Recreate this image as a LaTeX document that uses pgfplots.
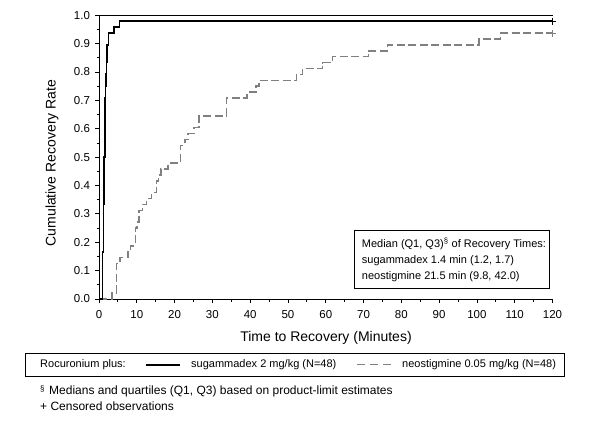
\documentclass[border=0pt]{standalone}
\usepackage{pgfplots}
\pgfplotsset{compat=1.18}
\usepackage{fontspec}
\setmainfont{Liberation Sans}
\definecolor{neogray}{RGB}{128,128,128}
\begin{document}
\begin{tikzpicture}[x=1bp,y=1bp]
\useasboundingbox (0,0) rectangle (596,-433);
\begin{axis}[
  at={(99bp,-299bp)}, anchor=south west,
  width=453.5bp, height=283.7bp, scale only axis,
  xmin=0, xmax=120, ymin=0, ymax=1,
  axis x line*=bottom, axis y line*=left,
  axis line style={line width=0.8bp, -},
  xtick={0,10,20,30,40,50,60,70,80,90,100,110,120},
  ytick={0,0.1,0.2,0.3,0.4,0.5,0.6,0.7,0.8,0.9,1.0},
  minor x tick num=1, minor y tick num=1,
  tick align=outside,
  major tick length=4bp, minor tick length=2.5bp,
  every tick/.style={black, line width=0.8bp},
  yticklabel style={xshift=-1.5bp, /pgf/number format/.cd, fixed, fixed zerofill, precision=1},
  ticklabel style={font=\fontsize{11.5bp}{13bp}\selectfont},
  /pgf/number format/assume math mode=true,
  xticklabel style={yshift=-4bp},
  clip=false,
]
\draw[line width=0.8bp] (axis cs:0,1) -- (axis cs:120,1);
% neostigmine
\addplot[const plot, neogray, line width=1.5bp, dash pattern=on 8bp off 3.5bp] coordinates {
(0,0) (3.5,0.0208) (4.6,0.125) (5.5,0.1458) (7.7,0.1667) (8.4,0.1875)
(9.6,0.25) (10.1,0.2708) (10.6,0.3125) (11.5,0.3333) (12.6,0.3542)
(13.9,0.375) (15.2,0.4167) (15.8,0.4375) (16.4,0.4583) (18.3,0.4792)
(21.5,0.5417) (22.7,0.5625) (23.6,0.5833) (25.1,0.6042) (26.4,0.6458)
(33.7,0.7083) (39.2,0.7292) (41.5,0.75) (42.3,0.7708) (52.2,0.7917)
(53.9,0.8125) (59.2,0.8333) (61.8,0.8542) (71.3,0.875) (76.3,0.8958)
(100.5,0.9167) (106.2,0.9375) (120,0.9375)
};
% sugammadex
\addplot[const plot, black, line width=1.8bp] coordinates {
(0,0) (0.9,0.1667) (1.2,0.3333) (1.4,0.5) (1.6,0.7083) (1.7,0.75)
(1.9,0.7917) (2.0,0.8333) (2.2,0.8958) (2.5,0.9375) (4.0,0.9583)
(5.4,0.9792) (120,0.9792)
};
\addplot[only marks, mark=+, mark size=3.5bp, neogray, line width=0.8bp] coordinates {(120,0.9375)};
\addplot[only marks, mark=+, mark size=3.5bp, black, line width=0.8bp] coordinates {(120,0.9792)};
\end{axis}
% inset box
\draw[line width=0.8bp] (354,-230) rectangle (549,-288.3);
\begin{scope}[every node/.style={anchor=west, inner sep=0pt, font=\fontsize{11bp}{13bp}\selectfont}]
\node at (361.7,-244) {Median (Q1, Q3)\textsuperscript{§} of Recovery Times:};
\node at (361.7,-261) {sugammadex 1.4 min (1.2, 1.7)};
\node at (361.7,-276.7) {neostigmine 21.5 min (9.8, 42.0)};
\end{scope}
% axis labels
\node[font=\fontsize{14bp}{16bp}\selectfont] at (326,-338) {Time to Recovery (Minutes)};
\node[font=\fontsize{14bp}{16bp}\selectfont, rotate=90] at (52,-163) {Cumulative Recovery Rate};
% legend
\draw[line width=0.8bp] (25,-353) rectangle (564,-376);
\begin{scope}[every node/.style={anchor=west, inner sep=0pt, font=\fontsize{11bp}{13bp}\selectfont}]
\node at (40,-364.7) {Rocuronium plus:};
\node at (191,-364.7) {sugammadex 2 mg/kg (N=48)};
\node at (402,-364.7) {neostigmine 0.05 mg/kg (N=48)};
\end{scope}
\draw[black, line width=1.8bp] (145.7,-364.7) -- (180,-364.7);
\draw[neogray, line width=0.8bp, dash pattern=on 8bp off 5bp] (357,-364.7) -- (391,-364.7);
% footnotes
\begin{scope}[every node/.style={anchor=west, inner sep=0pt, font=\fontsize{12bp}{14bp}\selectfont}]
\node at (40,-389) {\fontsize{8bp}{9bp}\selectfont §};
\node at (49,-391.7) {Medians and quartiles (Q1, Q3) based on product-limit estimates};
\node at (40,-406.7) {+ Censored observations};
\end{scope}
\end{tikzpicture}
\end{document}
